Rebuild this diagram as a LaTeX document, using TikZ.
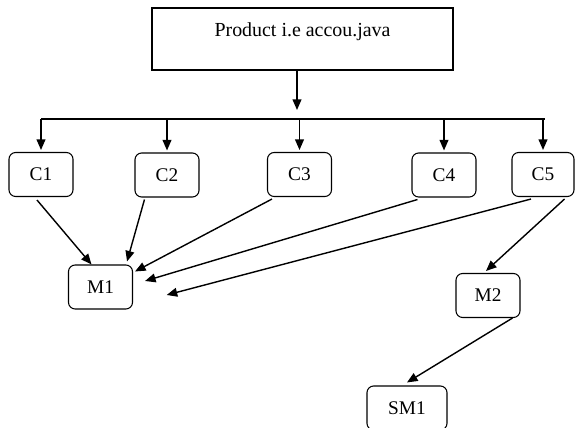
\documentclass[tikz,border=0pt]{standalone}
\usepackage{fontspec}
\setmainfont{Liberation Serif}
\usetikzlibrary{arrows.meta,calc}
\begin{document}
\begin{tikzpicture}[x=0.03cm, y=-0.03cm]
    % Define styles
    \tikzstyle{product} = [rectangle, draw, line width=1.1pt, minimum width=9.03cm, minimum height=1.86cm, text height=12pt, text depth=17pt, font=\fontsize{17}{20}\selectfont]
    \tikzstyle{module} = [rectangle, rounded corners=0.2cm, draw, line width=0.9pt, minimum width=1.92cm, minimum height=1.32cm, font=\fontsize{16.5}{20}\selectfont]
    \tikzstyle{line} = [draw, line width=1.2pt, -{Triangle[length=9pt, width=7.5pt]}]

    \useasboundingbox (0,0) rectangle (575,428);

    % Place nodes
    \node [product] (prod) at (302.5,39) {Product i.e accou.java};
    \node [module] (c1) at (41,174.5) {C1};
    \node [module] (c2) at (167,175) {C2};
    \node [module] (c3) at (299.5,174.5) {C3};
    \node [module] (c4) at (444,175) {C4};
    \node [module, minimum width=1.86cm] (c5) at (543,174.5) {C5};
    \node [module] (m1) at (100.5,287) {M1};
    \node [module] (m2) at (488,295.5) {M2};
    \node [module, minimum width=2.4cm] (sm1) at (407,408) {SM1};

    % Bus coordinates
    \coordinate (split) at (297,110);
    \coordinate (busL) at (41,119);
    \coordinate (busR) at (545,119);
    \coordinate (free) at (166.7,295);

    % Draw edges
    \path [line] (prod.south -| split) -- (split);
    \draw [line width=1.2pt] (busL) -- (busR);
    \foreach \cn in {c1,c2,c3,c4,c5}
        \path [line] (\cn |- busL) -- ($(\cn.north)+(0,-2)$);
    \path [line] ($(c1.south)+(-4,3)$) -- ($(m1.north)+(-9,0)$);
    \path [line] ($(c2.south west)+(10,2)$) -- ($(m1.north east)+(-6,-3)$);
    \path [line] ($(c3.south west)+(5,2)$) -- ($(m1.north east)+(2,7)$);
    \path [line] ($(c4.south west)+(6,2)$) -- ($(m1.east)+(12,-6)$);
    \path [line] ($(c5.south)+(-12,2)$) -- (free);
    \path [line] ($(c5.south east)+(-10,2)$) -- ($(m2.north)+(-2,-2)$);
    \path [line] ($(m2.south east)+(-8,0)$) -- ($(sm1.north)+(0,-3)$);
\end{tikzpicture}
\end{document}
